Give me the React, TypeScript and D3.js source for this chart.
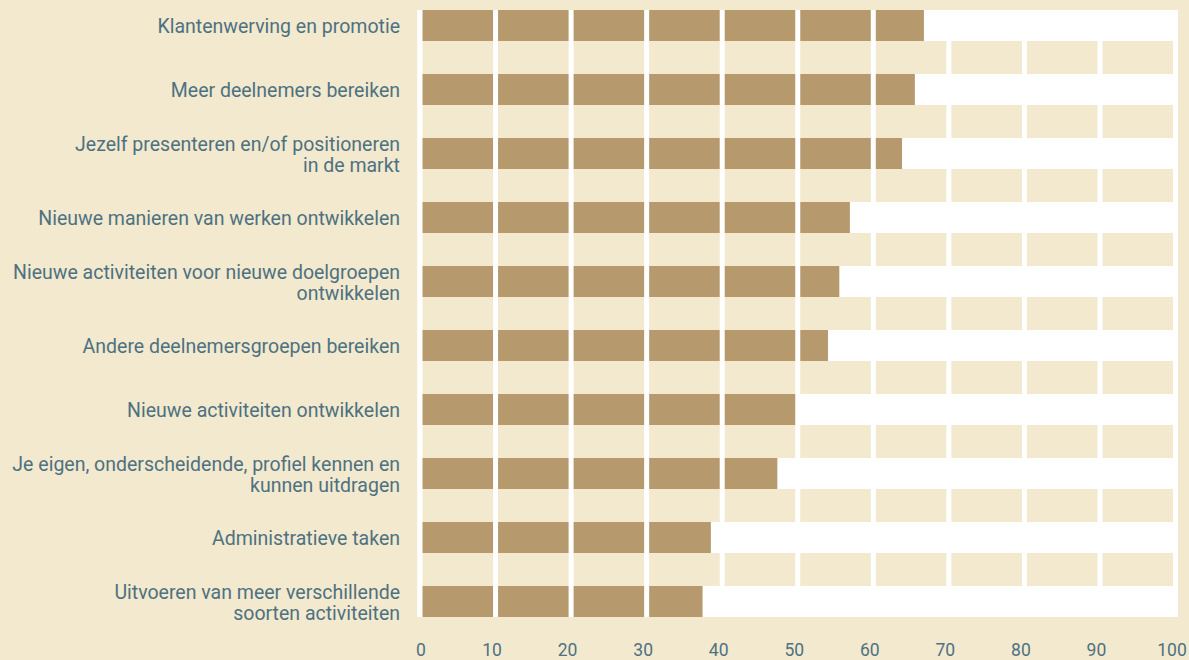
import React from "react";
import * as d3 from "d3";

const categories: string[][] = [
  ["Klantenwerving en promotie"],
  ["Meer deelnemers bereiken"],
  ["Jezelf presenteren en/of positioneren", "in de markt"],
  ["Nieuwe manieren van werken ontwikkelen"],
  ["Nieuwe activiteiten voor nieuwe doelgroepen", "ontwikkelen"],
  ["Andere deelnemersgroepen bereiken"],
  ["Nieuwe activiteiten ontwikkelen"],
  ["Je eigen, onderscheidende, profiel kennen en", "kunnen uitdragen"],
  ["Administratieve taken"],
  ["Uitvoeren van meer verschillende", "soorten activiteiten"],
];
const values: number[] = [66.7, 65.5, 63.8, 56.9, 55.5, 54.0, 49.8, 47.3, 38.5, 37.4];
const ticks: number[] = [0, 10, 20, 30, 40, 50, 60, 70, 80, 90, 100];

const W = 1189;
const H = 660;
const BG = "#f2e9ce";
const BAR = "#b69a6e";
const TXT = "#4e7181";
const FONT = "Roboto, 'Open Sans', sans-serif";

export default function App() {
  const keys = categories.map((c) => c.join(" "));
  const x = d3.scaleLinear().domain([0, 100]).range([420, 1175.5]);
  const y = d3
    .scaleBand<string>()
    .domain(keys)
    .range([10, 617])
    .paddingInner(33 / 64)
    .paddingOuter(0);
  const bw = y.bandwidth();
  const step = y.step();
  const gw = 5;

  return (
    <svg
      width={W}
      height={H}
      style={{ position: "absolute", left: 0, top: 0, display: "block" }}
      fontFamily={FONT}
    >
      <rect x={0} y={0} width={W} height={H} fill={BG} />
      <rect
        x={x(0) - gw / 2}
        y={10}
        width={x(100) - x(0) + gw}
        height={607}
        fill="#ffffff"
      />
      {keys.slice(0, -1).map((k) => (
        <rect
          key={"gap" + k}
          x={x(0)}
          y={(y(k) as number) + bw}
          width={x(100) - x(0)}
          height={step - bw}
          fill={BG}
        />
      ))}
      {keys.map((k, i) => (
        <rect
          key={"bar" + k}
          x={x(0)}
          y={y(k) as number}
          width={x(values[i]) - x(0)}
          height={bw}
          fill={BAR}
        />
      ))}
      {ticks.map((t) => (
        <rect
          key={"grid" + t}
          x={x(t) - gw / 2}
          y={10}
          width={gw}
          height={607}
          fill="#ffffff"
        />
      ))}
      {categories.map((lines, i) => {
        const cy = (y(keys[i]) as number) + bw / 2;
        const lh = 21;
        const y0 = cy - ((lines.length - 1) * lh) / 2;
        return (
          <text
            key={"lab" + i}
            x={400}
            textAnchor="end"
            fill={TXT}
            fontSize={19.5}
          >
            {lines.map((l, j) => (
              <tspan key={j} x={400} y={y0 + j * lh} dy="0.4em">
                {l}
              </tspan>
            ))}
          </text>
        );
      })}
      {ticks.map((t) => (
        <text
          key={"tick" + t}
          x={x(t) + (t === 0 ? 1 : -3.5)}
          y={655.5}
          textAnchor="middle"
          fill={TXT}
          fontSize={17.5}
        >
          {t}
        </text>
      ))}
    </svg>
  );
}
